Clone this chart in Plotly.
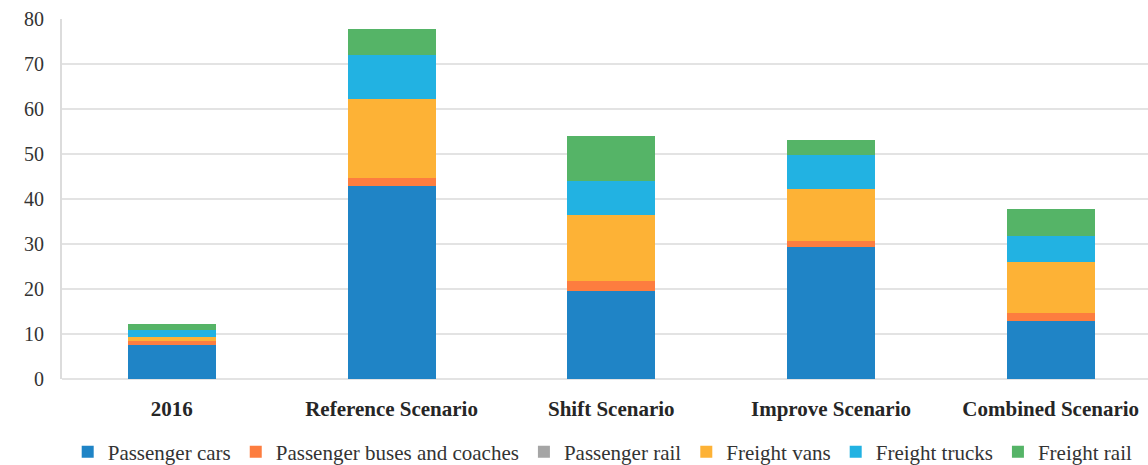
import plotly.graph_objects as go

categories = ["2016", "Reference Scenario", "Shift Scenario", "Improve Scenario", "Combined Scenario"]

passenger_cars = [7.5, 43.0, 19.6, 29.3, 13.0]
passenger_buses = [0.9, 1.7, 2.1, 1.4, 1.6]
passenger_rail = [0.0, 0.0, 0.0, 0.0, 0.0]
freight_vans = [0.9, 17.6, 14.7, 11.6, 11.3]
freight_trucks = [1.6, 9.6, 7.5, 7.5, 5.9]
freight_rail = [1.3, 5.8, 10.1, 3.3, 5.9]

series = [
    ("Passenger cars", passenger_cars, "#1f84c6"),
    ("Passenger buses and coaches", passenger_buses, "#fd7d3f"),
    ("Passenger rail", passenger_rail, "#a5a5a5"),
    ("Freight vans", freight_vans, "#fdb236"),
    ("Freight trucks", freight_trucks, "#22b2e2"),
    ("Freight rail", freight_rail, "#55b467"),
]

fig = go.Figure()
for name, vals, color in series:
    fig.add_trace(go.Bar(
        x=categories, y=vals, name=name,
        marker=dict(color=color, line=dict(width=0)),
        width=0.4,
    ))

serif = "Liberation Serif"

fig.update_layout(
    barmode="stack",
    width=1148, height=465,
    margin=dict(l=62, r=0, t=19, b=86, autoexpand=False),
    paper_bgcolor="white", plot_bgcolor="white",
    font=dict(family=serif, size=17, color="#333333"),
    showlegend=True,
    legend=dict(
        orientation="h", traceorder="normal",
        x=0.525, xanchor="center", xref="container",
        y=0.028, yanchor="middle", yref="container",
        font=dict(family=serif, size=21, color="#333333"),
        itemwidth=30, tracegroupgap=0,
    ),
    xaxis=dict(
        range=[-0.5, 4.443],
        showgrid=False, showline=False, ticks="",
        ticklabelstandoff=15,
        tickfont=dict(family=serif, size=21, color="#262626", weight="bold"),
    ),
    yaxis=dict(
        range=[0, 80], dtick=10,
        showgrid=True, gridcolor="#e3e3e3", gridwidth=2,
        showline=True, linecolor="#dcdcdc", linewidth=2,
        zeroline=True, zerolinecolor="#e3e3e3", zerolinewidth=2,
        ticks="", ticklabelstandoff=12,
        tickfont=dict(family=serif, size=20, color="#333333"),
    ),
)

fig.write_html("out.html")
